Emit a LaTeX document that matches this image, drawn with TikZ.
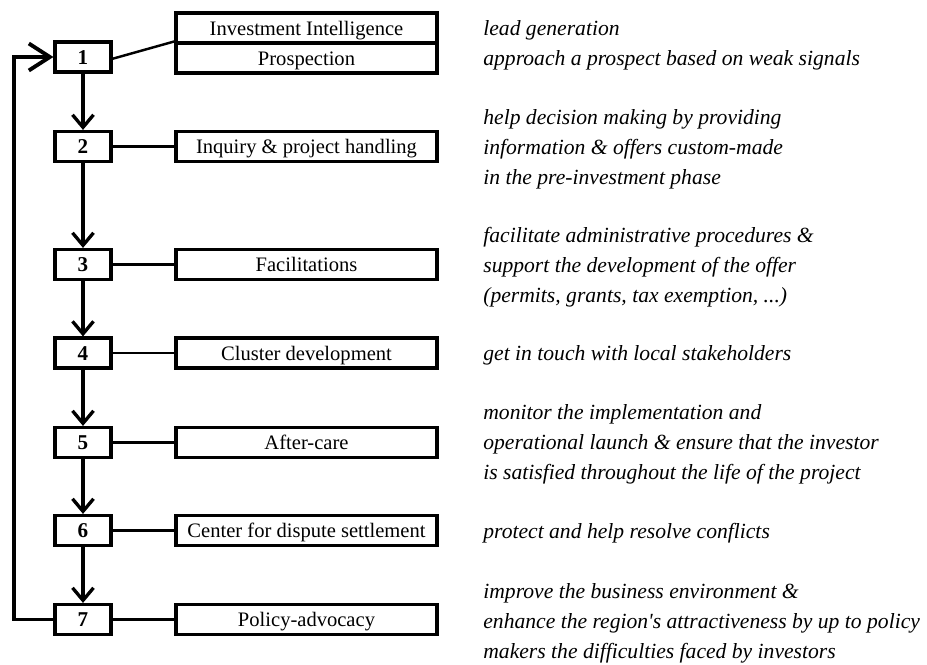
\documentclass[tikz,border=0pt]{standalone}
\usepackage{fontspec}
\setmainfont{Liberation Serif}
\usetikzlibrary{arrows.meta}

\begin{document}
\begin{tikzpicture}[
    numbox/.style={shape=rectangle,draw=black,line width=1.8pt,minimum width=1.12cm,minimum height=0.6cm,inner sep=0pt,text height=0.9em,text depth=0.08em,font=\fontsize{12}{14}\selectfont\bfseries},
    titlebox/.style={shape=rectangle,draw=black,line width=1.8pt,minimum width=5.22cm,minimum height=0.6cm,inner sep=0pt,text height=0.9em,text depth=0.08em,font=\fontsize{11.7}{14}\selectfont},
    desc/.style={anchor=west,align=left,inner sep=0pt,font=\fontsize{12.3}{17}\selectfont\itshape},
    nextarrow/.style={-{Straight Barb[length=2.5mm,width=4.2mm]},line width=1.9pt},
    link/.style={line width=1.4pt},
    loopback/.style={-{Straight Barb[length=4.2mm,width=5.4mm]},line width=2.2pt}
]
\useasboundingbox (0,0) rectangle (18.54,-13.28);

                % steps
                \node[numbox] (N1) at (1.66,-1.14) {1};
                \node[numbox] (N2) at (1.66,-2.93) {2};
                \node[numbox] (N3) at (1.66,-5.29) {3};
                \node[numbox] (N4) at (1.66,-7.06) {4};
                \node[numbox] (N5) at (1.66,-8.85) {5};
                \node[numbox] (N6) at (1.66,-10.61) {6};
                \node[numbox] (N7) at (1.66,-12.39) {7};

                % services
                \node[titlebox] (T1a) at (6.13,-0.56) {Investment Intelligence};
                \node[titlebox] (T1b) at (6.13,-1.16) {Prospection};
                \node[titlebox] (T2) at (6.13,-2.93) {Inquiry \& project handling};
                \node[titlebox] (T3) at (6.13,-5.29) {Facilitations};
                \node[titlebox] (T4) at (6.13,-7.06) {Cluster development};
                \node[titlebox] (T5) at (6.13,-8.85) {After-care};
                \node[titlebox] (T6) at (6.13,-10.61) {Center for dispute settlement};
                \node[titlebox] (T7) at (6.13,-12.39) {Policy-advocacy};

                % descriptions
                \node[desc] (D1) at (9.66,-0.9) {lead generation\\approach a prospect based on weak signals};
                \node[desc] (D2) at (9.66,-2.98) {help decision making by providing\\information \& offers custom-made\\in the pre-investment phase};
                \node[desc] (D3) at (9.66,-5.34) {facilitate administrative procedures \&\\support the development of the offer\\(permits, grants, tax exemption, ...)};
                \node[desc] (D4) at (9.66,-7.1) {get in touch with local stakeholders};
                \node[desc] (D5) at (9.66,-8.88) {monitor the implementation and\\operational launch \& ensure that the investor\\is satisfied throughout the life of the project};
                \node[desc] (D6) at (9.66,-10.66) {protect and help resolve conflicts};
                \node[desc] (D7) at (9.66,-12.46) {improve the business environment \&\\enhance the region\textquotesingle s attractiveness by up to policy\\makers the difficulties faced by investors};

                \path [nextarrow](N1) edge (N2);
                \path [nextarrow](N2) edge (N3);
                \path [nextarrow](N3) edge (N4);
                \path [nextarrow](N4) edge (N5);
                \path [nextarrow](N5) edge (N6);
                \path [nextarrow](N6) edge (N7);

                \path [link]([yshift=-1pt]N1.east) edge (T1b.north west);
                \path [link](N2) edge (T2);
                \path [link](N3) edge (T3);
                \path [link](N4) edge (T4);
                \path [link](N5) edge (T5);
                \path [link](N6) edge (T6);
                \path [link](N7) edge (T7);

                \coordinate (L) at (0.28,-12.42);
                \draw [loopback](N7.west) -- (N7.west -| L) |- (N1.west);
            \end{tikzpicture}
\end{document}
